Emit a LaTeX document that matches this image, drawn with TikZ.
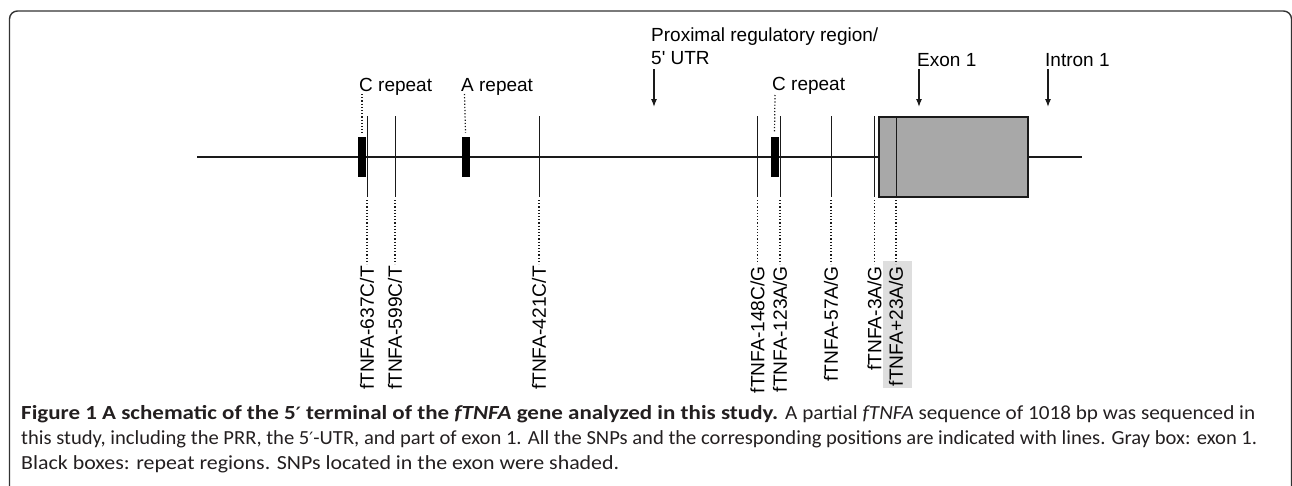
\documentclass[tikz,border=0pt]{standalone}
\usepackage{fontspec}
\usepackage{graphicx}
\setmainfont{Liberation Sans}
\newfontfamily\capfont{Carlito}
\newfontfamily\primefont{DejaVu Sans}
\newcommand\prm{{\primefont\fontsize{17}{20}\selectfont ′}}
\usetikzlibrary{arrows.meta}
\definecolor{lineink}{HTML}{1A1A1A}
\definecolor{exongray}{HTML}{A8A8A8}
\definecolor{shadegray}{HTML}{DEDEDE}
\definecolor{frameink}{HTML}{333333}
\definecolor{capink}{HTML}{231F20}
\tikzset{
  lab/.style={font=\fontsize{19}{22}\selectfont, inner sep=0pt, text=black},
  snplab/.style={lab, font=\fontsize{19.2}{22}\selectfont, rotate=90, anchor=east},
  snpline/.style={draw=lineink, line width=0.9pt},
  guide/.style={draw=lineink, line width=1.2pt, dotted},
  repbox/.style={fill=black, draw=none, minimum width=8pt, minimum height=40pt, inner sep=0pt},
  exonbox/.style={fill=exongray, draw=lineink, line width=1.2pt, minimum width=149pt, minimum height=80pt, inner sep=0pt},
  darrow/.style={draw=lineink, line width=1.2pt, -{Latex[length=8pt,width=6pt]}},
  capline/.style={font=\capfont\fontsize{20}{24}\selectfont, text=capink, inner sep=0pt, anchor=base west},
}
\begin{document}
\begin{tikzpicture}[x=1pt,y=-1pt]
\useasboundingbox (0,0) rectangle (1292,485);
% frame
\draw[frameink, line width=1.4pt, rounded corners=8pt] (9.5,490) -- (9.5,11) -- (1291.5,11) -- (1291.5,490);

% main line
\coordinate (mL) at (197,157);
\coordinate (mR) at (1082,157);
\draw[lineink, line width=1.3pt] (mL) -- (mR);

% exon box
\node[exonbox] (exon) at (953.5,157) {};

% repeat boxes
\node[repbox] (rep1) at (362,157) {};
\node[repbox] (rep2) at (465.5,157) {};
\node[repbox] (rep3) at (774.5,157) {};

% repeat labels
\node[lab, anchor=base west] (rl1) at (359,91) {C repeat};
\node[lab, anchor=base west] (rl2) at (461,91) {A repeat};
\node[lab, anchor=base west] (rl3) at (772,90) {C repeat};
\coordinate (rd1) at (362,94);
\coordinate (rd2) at (464.5,94);
\coordinate (rd3) at (775,95);
\draw[guide] (rd1) -- ([yshift=4pt]rep1.north);
\draw[guide] (rd2) -- ([yshift=4pt]rep2.north);
\draw[guide] (rd3) -- ([yshift=4pt]rep3.north);

% region labels and arrows
\node[lab, anchor=base west] (prr1) at (651,41) {Proximal regulatory region/};
\node[lab, anchor=base west] (prr2) at (651,64) {5\textquotesingle\ UTR};
\node[lab, anchor=base west] (ex1) at (917,66) {Exon 1};
\node[lab, anchor=base west] (in1) at (1045,66) {Intron 1};
\coordinate (a1s) at (654,69); \coordinate (a1e) at (654,107);
\coordinate (a2s) at (919,69); \coordinate (a2e) at (919,107);
\coordinate (a3s) at (1048,69); \coordinate (a3e) at (1048,107);
\draw[darrow] (a1s) -- (a1e);
\draw[darrow] (a2s) -- (a2e);
\draw[darrow] (a3s) -- (a3e);

% shading for exon SNP label
\fill[shadegray] (883,261) rectangle (912,388);

% SNPs
\foreach \n/\x/\t in {1/367/{fTNFA-637C/T}, 2/395/{fTNFA-599C/T}, 3/539/{fTNFA-421C/T},
                     4/757.5/{fTNFA-148C/G}, 5/780/{fTNFA-123A/G}, 6/831/{fTNFA-57A/G},
                     7/874.5/{fTNFA-3A/G}, 8/896/{fTNFA+23A/G}} {
  \coordinate (s\n t) at (\x,116);
  \coordinate (s\n b) at (\x,197);
  \node[snplab] (l\n) at (\x,266) {\t};
  \draw[snpline] (s\n t) -- (s\n b);
  \draw[guide] ([yshift=-3pt]s\n b) -- ([yshift=2pt]l\n.east);
}

% caption
\node[capline] (cap1a) at (21,419) {\resizebox{757pt}{\height}{\bfseries Figure 1 A schematic of the 5\prm\ terminal of the \textit{fTNFA} gene analyzed in this study.}};
\node[capline] (cap1b) at (785,419) {\resizebox{470pt}{\height}{A partial \textit{fTNFA} sequence of 1018 bp was sequenced in}};
\node[capline] (cap2) at (21,444) {\resizebox{1236pt}{\height}{this study, including the PRR, the 5\prm-UTR, and part of exon 1. All the SNPs and the corresponding positions are indicated with lines. Gray box: exon 1.}};
\node[capline] (cap3) at (21,469) {\resizebox{598pt}{\height}{Black boxes: repeat regions. SNPs located in the exon were shaded.}};
\end{tikzpicture}
\end{document}
